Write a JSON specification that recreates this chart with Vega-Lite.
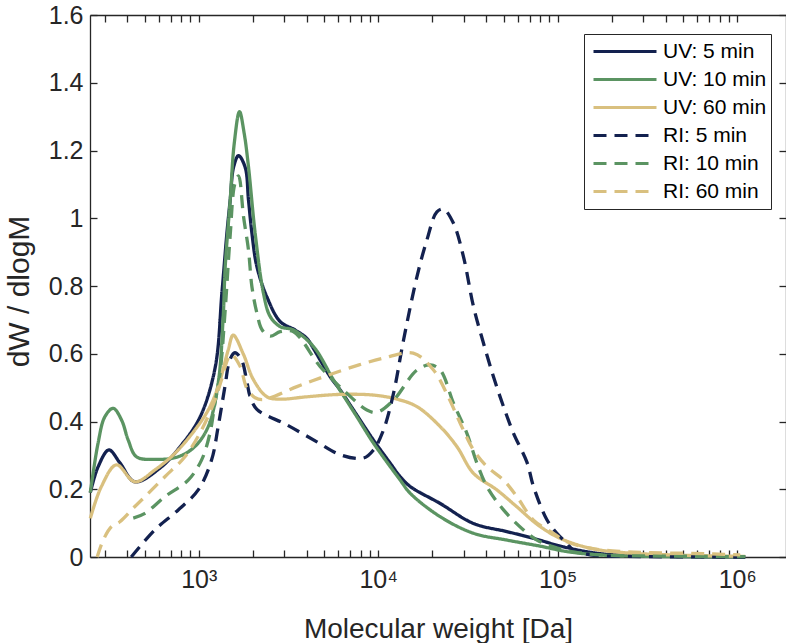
{
  "$schema": "https://vega.github.io/schema/vega-lite/v6.json",
  "width": 696,
  "height": 542,
  "autosize": "none",
  "padding": {"left": 90, "top": 15, "right": 0, "bottom": 86},
  "background": "white",
  "data": {"values": [
    {"series": "UV: 5 min", "M": 249, "v": 0.19},
    {"series": "UV: 5 min", "M": 275, "v": 0.266},
    {"series": "UV: 5 min", "M": 316, "v": 0.316},
    {"series": "UV: 5 min", "M": 365, "v": 0.277},
    {"series": "UV: 5 min", "M": 441, "v": 0.222},
    {"series": "UV: 5 min", "M": 610, "v": 0.263},
    {"series": "UV: 5 min", "M": 789, "v": 0.326},
    {"series": "UV: 5 min", "M": 1019, "v": 0.414},
    {"series": "UV: 5 min", "M": 1236, "v": 0.56},
    {"series": "UV: 5 min", "M": 1347, "v": 0.78},
    {"series": "UV: 5 min", "M": 1436, "v": 0.956},
    {"series": "UV: 5 min", "M": 1498, "v": 1.054},
    {"series": "UV: 5 min", "M": 1563, "v": 1.15},
    {"series": "UV: 5 min", "M": 1667, "v": 1.185},
    {"series": "UV: 5 min", "M": 1816, "v": 1.15},
    {"series": "UV: 5 min", "M": 1894, "v": 1.054},
    {"series": "UV: 5 min", "M": 1979, "v": 0.956},
    {"series": "UV: 5 min", "M": 2110, "v": 0.857},
    {"series": "UV: 5 min", "M": 2398, "v": 0.768},
    {"series": "UV: 5 min", "M": 2844, "v": 0.695},
    {"series": "UV: 5 min", "M": 3448, "v": 0.67},
    {"series": "UV: 5 min", "M": 4008, "v": 0.645},
    {"series": "UV: 5 min", "M": 4362, "v": 0.615},
    {"series": "UV: 5 min", "M": 5403, "v": 0.532},
    {"series": "UV: 5 min", "M": 6142, "v": 0.493},
    {"series": "UV: 5 min", "M": 7284, "v": 0.434},
    {"series": "UV: 5 min", "M": 9415, "v": 0.345},
    {"series": "UV: 5 min", "M": 11666, "v": 0.277},
    {"series": "UV: 5 min", "M": 13263, "v": 0.237},
    {"series": "UV: 5 min", "M": 15080, "v": 0.208},
    {"series": "UV: 5 min", "M": 22150, "v": 0.158},
    {"series": "UV: 5 min", "M": 33960, "v": 0.099},
    {"series": "UV: 5 min", "M": 52120, "v": 0.075},
    {"series": "UV: 5 min", "M": 73320, "v": 0.055},
    {"series": "UV: 5 min", "M": 107720, "v": 0.03},
    {"series": "UV: 5 min", "M": 172530, "v": 0.01},
    {"series": "UV: 5 min", "M": 327600, "v": 0.003},
    {"series": "UV: 5 min", "M": 1108000, "v": 0.0},

    {"series": "UV: 10 min", "M": 249, "v": 0.19},
    {"series": "UV: 10 min", "M": 275, "v": 0.336},
    {"series": "UV: 10 min", "M": 300, "v": 0.414},
    {"series": "UV: 10 min", "M": 334, "v": 0.439},
    {"series": "UV: 10 min", "M": 372, "v": 0.404},
    {"series": "UV: 10 min", "M": 405, "v": 0.345},
    {"series": "UV: 10 min", "M": 450, "v": 0.296},
    {"series": "UV: 10 min", "M": 570, "v": 0.288},
    {"series": "UV: 10 min", "M": 769, "v": 0.296},
    {"series": "UV: 10 min", "M": 952, "v": 0.326},
    {"series": "UV: 10 min", "M": 1130, "v": 0.385},
    {"series": "UV: 10 min", "M": 1284, "v": 0.513},
    {"series": "UV: 10 min", "M": 1369, "v": 0.709},
    {"series": "UV: 10 min", "M": 1405, "v": 0.857},
    {"series": "UV: 10 min", "M": 1498, "v": 1.054},
    {"series": "UV: 10 min", "M": 1577, "v": 1.22},
    {"series": "UV: 10 min", "M": 1688, "v": 1.315},
    {"series": "UV: 10 min", "M": 1793, "v": 1.25},
    {"series": "UV: 10 min", "M": 1894, "v": 1.152},
    {"series": "UV: 10 min", "M": 2064, "v": 0.955},
    {"series": "UV: 10 min", "M": 2296, "v": 0.778},
    {"series": "UV: 10 min", "M": 2502, "v": 0.71},
    {"series": "UV: 10 min", "M": 2844, "v": 0.68},
    {"series": "UV: 10 min", "M": 3375, "v": 0.67},
    {"series": "UV: 10 min", "M": 4362, "v": 0.621},
    {"series": "UV: 10 min", "M": 5636, "v": 0.523},
    {"series": "UV: 10 min", "M": 7608, "v": 0.414},
    {"series": "UV: 10 min", "M": 9415, "v": 0.336},
    {"series": "UV: 10 min", "M": 13263, "v": 0.227},
    {"series": "UV: 10 min", "M": 15080, "v": 0.188},
    {"series": "UV: 10 min", "M": 22150, "v": 0.119},
    {"series": "UV: 10 min", "M": 33960, "v": 0.07},
    {"series": "UV: 10 min", "M": 52120, "v": 0.05},
    {"series": "UV: 10 min", "M": 79890, "v": 0.032},
    {"series": "UV: 10 min", "M": 112540, "v": 0.016},
    {"series": "UV: 10 min", "M": 172530, "v": 0.006},
    {"series": "UV: 10 min", "M": 327600, "v": 0.002},
    {"series": "UV: 10 min", "M": 1108000, "v": 0.0},

    {"series": "UV: 60 min", "M": 249, "v": 0.114},
    {"series": "UV: 60 min", "M": 287, "v": 0.208},
    {"series": "UV: 60 min", "M": 348, "v": 0.272},
    {"series": "UV: 60 min", "M": 441, "v": 0.222},
    {"series": "UV: 60 min", "M": 570, "v": 0.257},
    {"series": "UV: 60 min", "M": 737, "v": 0.306},
    {"series": "UV: 60 min", "M": 952, "v": 0.375},
    {"series": "UV: 60 min", "M": 1130, "v": 0.434},
    {"series": "UV: 60 min", "M": 1284, "v": 0.503},
    {"series": "UV: 60 min", "M": 1460, "v": 0.611},
    {"series": "UV: 60 min", "M": 1557, "v": 0.655},
    {"series": "UV: 60 min", "M": 1770, "v": 0.6},
    {"series": "UV: 60 min", "M": 2020, "v": 0.523},
    {"series": "UV: 60 min", "M": 2398, "v": 0.473},
    {"series": "UV: 60 min", "M": 2844, "v": 0.466},
    {"series": "UV: 60 min", "M": 4008, "v": 0.473},
    {"series": "UV: 60 min", "M": 6142, "v": 0.48},
    {"series": "UV: 60 min", "M": 9415, "v": 0.478},
    {"series": "UV: 60 min", "M": 12712, "v": 0.466},
    {"series": "UV: 60 min", "M": 16430, "v": 0.444},
    {"series": "UV: 60 min", "M": 22150, "v": 0.385},
    {"series": "UV: 60 min", "M": 27440, "v": 0.326},
    {"series": "UV: 60 min", "M": 33960, "v": 0.247},
    {"series": "UV: 60 min", "M": 45840, "v": 0.198},
    {"series": "UV: 60 min", "M": 59270, "v": 0.148},
    {"series": "UV: 60 min", "M": 77880, "v": 0.094},
    {"series": "UV: 60 min", "M": 103260, "v": 0.055},
    {"series": "UV: 60 min", "M": 151740, "v": 0.026},
    {"series": "UV: 60 min", "M": 231700, "v": 0.013},
    {"series": "UV: 60 min", "M": 440000, "v": 0.006},
    {"series": "UV: 60 min", "M": 804300, "v": 0.003},
    {"series": "UV: 60 min", "M": 1108000, "v": 0.002},

    {"series": "RI: 5 min", "M": 421, "v": 0.0},
    {"series": "RI: 5 min", "M": 570, "v": 0.08},
    {"series": "RI: 5 min", "M": 769, "v": 0.139},
    {"series": "RI: 5 min", "M": 994, "v": 0.198},
    {"series": "RI: 5 min", "M": 1179, "v": 0.286},
    {"series": "RI: 5 min", "M": 1284, "v": 0.385},
    {"series": "RI: 5 min", "M": 1400, "v": 0.503},
    {"series": "RI: 5 min", "M": 1492, "v": 0.582},
    {"series": "RI: 5 min", "M": 1591, "v": 0.603},
    {"series": "RI: 5 min", "M": 1732, "v": 0.582},
    {"series": "RI: 5 min", "M": 1847, "v": 0.523},
    {"series": "RI: 5 min", "M": 1936, "v": 0.473},
    {"series": "RI: 5 min", "M": 2110, "v": 0.436},
    {"series": "RI: 5 min", "M": 3100, "v": 0.39},
    {"series": "RI: 5 min", "M": 4556, "v": 0.34},
    {"series": "RI: 5 min", "M": 6142, "v": 0.302},
    {"series": "RI: 5 min", "M": 8283, "v": 0.292},
    {"series": "RI: 5 min", "M": 9415, "v": 0.316},
    {"series": "RI: 5 min", "M": 10703, "v": 0.375},
    {"series": "RI: 5 min", "M": 12168, "v": 0.483},
    {"series": "RI: 5 min", "M": 13835, "v": 0.64},
    {"series": "RI: 5 min", "M": 16430, "v": 0.827},
    {"series": "RI: 5 min", "M": 18680, "v": 0.936},
    {"series": "RI: 5 min", "M": 21230, "v": 1.019},
    {"series": "RI: 5 min", "M": 23110, "v": 1.027},
    {"series": "RI: 5 min", "M": 26270, "v": 0.985},
    {"series": "RI: 5 min", "M": 29870, "v": 0.886},
    {"series": "RI: 5 min", "M": 33960, "v": 0.739},
    {"series": "RI: 5 min", "M": 38610, "v": 0.631},
    {"series": "RI: 5 min", "M": 43880, "v": 0.532},
    {"series": "RI: 5 min", "M": 49900, "v": 0.444},
    {"series": "RI: 5 min", "M": 56740, "v": 0.365},
    {"series": "RI: 5 min", "M": 67380, "v": 0.28},
    {"series": "RI: 5 min", "M": 73320, "v": 0.208},
    {"series": "RI: 5 min", "M": 87060, "v": 0.11},
    {"series": "RI: 5 min", "M": 98970, "v": 0.07},
    {"series": "RI: 5 min", "M": 112540, "v": 0.04},
    {"series": "RI: 5 min", "M": 122460, "v": 0.02},
    {"series": "RI: 5 min", "M": 151740, "v": 0.006},
    {"series": "RI: 5 min", "M": 231700, "v": 0.002},
    {"series": "RI: 5 min", "M": 1108000, "v": 0.0},

    {"series": "RI: 10 min", "M": 432, "v": 0.115},
    {"series": "RI: 10 min", "M": 502, "v": 0.129},
    {"series": "RI: 10 min", "M": 648, "v": 0.178},
    {"series": "RI: 10 min", "M": 874, "v": 0.227},
    {"series": "RI: 10 min", "M": 1037, "v": 0.286},
    {"series": "RI: 10 min", "M": 1155, "v": 0.365},
    {"series": "RI: 10 min", "M": 1231, "v": 0.454},
    {"series": "RI: 10 min", "M": 1313, "v": 0.54},
    {"series": "RI: 10 min", "M": 1405, "v": 0.73},
    {"series": "RI: 10 min", "M": 1498, "v": 0.95},
    {"series": "RI: 10 min", "M": 1587, "v": 1.1},
    {"series": "RI: 10 min", "M": 1667, "v": 1.125},
    {"series": "RI: 10 min", "M": 1777, "v": 1.005},
    {"series": "RI: 10 min", "M": 1894, "v": 0.906},
    {"series": "RI: 10 min", "M": 1979, "v": 0.798},
    {"series": "RI: 10 min", "M": 2110, "v": 0.72},
    {"series": "RI: 10 min", "M": 2258, "v": 0.67},
    {"series": "RI: 10 min", "M": 2502, "v": 0.652},
    {"series": "RI: 10 min", "M": 2844, "v": 0.665},
    {"series": "RI: 10 min", "M": 3375, "v": 0.665},
    {"series": "RI: 10 min", "M": 4753, "v": 0.562},
    {"series": "RI: 10 min", "M": 6693, "v": 0.483},
    {"series": "RI: 10 min", "M": 8650, "v": 0.434},
    {"series": "RI: 10 min", "M": 9835, "v": 0.427},
    {"series": "RI: 10 min", "M": 12168, "v": 0.463},
    {"series": "RI: 10 min", "M": 16430, "v": 0.552},
    {"series": "RI: 10 min", "M": 19490, "v": 0.567},
    {"series": "RI: 10 min", "M": 22150, "v": 0.552},
    {"series": "RI: 10 min", "M": 26270, "v": 0.454},
    {"series": "RI: 10 min", "M": 31200, "v": 0.365},
    {"series": "RI: 10 min", "M": 35480, "v": 0.277},
    {"series": "RI: 10 min", "M": 40330, "v": 0.208},
    {"series": "RI: 10 min", "M": 49900, "v": 0.139},
    {"series": "RI: 10 min", "M": 64500, "v": 0.08},
    {"series": "RI: 10 min", "M": 76580, "v": 0.05},
    {"series": "RI: 10 min", "M": 94750, "v": 0.03},
    {"series": "RI: 10 min", "M": 122460, "v": 0.015},
    {"series": "RI: 10 min", "M": 172530, "v": 0.006},
    {"series": "RI: 10 min", "M": 327600, "v": 0.003},
    {"series": "RI: 10 min", "M": 622300, "v": 0.002},
    {"series": "RI: 10 min", "M": 1108000, "v": 0.001},

    {"series": "RI: 60 min", "M": 272, "v": 0.0},
    {"series": "RI: 60 min", "M": 294, "v": 0.05},
    {"series": "RI: 60 min", "M": 327, "v": 0.09},
    {"series": "RI: 60 min", "M": 364, "v": 0.104},
    {"series": "RI: 60 min", "M": 441, "v": 0.149},
    {"series": "RI: 60 min", "M": 502, "v": 0.178},
    {"series": "RI: 60 min", "M": 648, "v": 0.237},
    {"series": "RI: 60 min", "M": 838, "v": 0.296},
    {"series": "RI: 60 min", "M": 1037, "v": 0.375},
    {"series": "RI: 60 min", "M": 1231, "v": 0.463},
    {"series": "RI: 60 min", "M": 1340, "v": 0.523},
    {"series": "RI: 60 min", "M": 1460, "v": 0.587},
    {"series": "RI: 60 min", "M": 1523, "v": 0.598},
    {"series": "RI: 60 min", "M": 1703, "v": 0.562},
    {"series": "RI: 60 min", "M": 1856, "v": 0.498},
    {"series": "RI: 60 min", "M": 2064, "v": 0.47},
    {"series": "RI: 60 min", "M": 2296, "v": 0.465},
    {"series": "RI: 60 min", "M": 3526, "v": 0.503},
    {"series": "RI: 60 min", "M": 4958, "v": 0.532},
    {"series": "RI: 60 min", "M": 7284, "v": 0.562},
    {"series": "RI: 60 min", "M": 10703, "v": 0.587},
    {"series": "RI: 60 min", "M": 15668, "v": 0.602},
    {"series": "RI: 60 min", "M": 20330, "v": 0.552},
    {"series": "RI: 60 min", "M": 24550, "v": 0.473},
    {"series": "RI: 60 min", "M": 28630, "v": 0.395},
    {"series": "RI: 60 min", "M": 33960, "v": 0.316},
    {"series": "RI: 60 min", "M": 40330, "v": 0.267},
    {"series": "RI: 60 min", "M": 49900, "v": 0.227},
    {"series": "RI: 60 min", "M": 59270, "v": 0.178},
    {"series": "RI: 60 min", "M": 73320, "v": 0.109},
    {"series": "RI: 60 min", "M": 94750, "v": 0.07},
    {"series": "RI: 60 min", "M": 112540, "v": 0.045},
    {"series": "RI: 60 min", "M": 151740, "v": 0.026},
    {"series": "RI: 60 min", "M": 231700, "v": 0.016},
    {"series": "RI: 60 min", "M": 327600, "v": 0.013},
    {"series": "RI: 60 min", "M": 500200, "v": 0.011},
    {"series": "RI: 60 min", "M": 735100, "v": 0.009},
    {"series": "RI: 60 min", "M": 1039000, "v": 0.006}
  ]},
  "layer": [
    {
      "mark": {"type": "line", "strokeWidth": 3.3, "interpolate": "catmull-rom"},
      "encoding": {
        "x": {
          "field": "M", "type": "quantitative",
          "scale": {"type": "log", "domain": [248, 1870000], "nice": false},
          "axis": {
            "orient": "bottom",
            "values": [300,400,500,600,700,800,900,1000,2000,3000,4000,5000,6000,7000,8000,9000,10000,20000,30000,40000,50000,60000,70000,80000,90000,100000,200000,300000,400000,500000,600000,700000,800000,900000,1000000],
            "labelExpr": "datum.value == 1000 ? '10³' : datum.value == 10000 ? '10⁴' : datum.value == 100000 ? '10⁵' : datum.value == 1000000 ? '10⁶' : ''",
            "tickSize": -7,
            "labelPadding": 17,
            "labelBaseline": "top",
            "labelFontSize": 25,
            "labelFlush": false,
            "labelOverlap": false,
            "title": "Molecular weight [Da]",
            "titleFontSize": 28,
            "titleBaseline": "alphabetic",
            "titleY": 80
          }
        },
        "y": {
          "field": "v", "type": "quantitative",
          "scale": {"domain": [0, 1.6], "nice": false},
          "axis": {
            "orient": "left",
            "values": [0, 0.2, 0.4, 0.6, 0.8, 1, 1.2, 1.4, 1.6],
            "format": "~g",
            "tickSize": -7,
            "labelPadding": 14,
            "labelFontSize": 25,
            "labelFlush": false,
            "labelOverlap": false,
            "title": "dW / dlogM",
            "titleFontSize": 30,
            "titleAngle": -90,
            "titleBaseline": "alphabetic",
            "titleAlign": "center",
            "titleX": -62,
            "titleY": 276
          }
        },
        "color": {
          "field": "series", "type": "nominal",
          "scale": {
            "domain": ["UV: 5 min", "UV: 10 min", "UV: 60 min", "RI: 5 min", "RI: 10 min", "RI: 60 min"],
            "range": ["#13214f", "#5b9462", "#d9c07f", "#13214f", "#5b9462", "#d9c07f"]
          },
          "legend": {"title": null}
        },
        "strokeDash": {
          "field": "series", "type": "nominal",
          "scale": {
            "domain": ["UV: 5 min", "UV: 10 min", "UV: 60 min", "RI: 5 min", "RI: 10 min", "RI: 60 min"],
            "range": [[1, 0], [1, 0], [1, 0], [13, 8], [13, 8], [13, 8]]
          },
          "legend": {"title": null}
        }
      }
    },
    {
      "mark": {"type": "point", "opacity": 0},
      "encoding": {
        "x": {
          "field": "M", "type": "quantitative",
          "scale": {"type": "log", "domain": [248, 1870000], "nice": false},
          "axis": {
            "orient": "top",
            "values": [300,400,500,600,700,800,900,1000,2000,3000,4000,5000,6000,7000,8000,9000,10000,20000,30000,40000,50000,60000,70000,80000,90000,100000,200000,300000,400000,500000,600000,700000,800000,900000,1000000],
            "labels": false,
            "tickSize": -7,
            "title": null
          }
        },
        "y": {
          "field": "v", "type": "quantitative",
          "scale": {"domain": [0, 1.6], "nice": false},
          "axis": {
            "orient": "right",
            "values": [0, 0.2, 0.4, 0.6, 0.8, 1, 1.2, 1.4, 1.6],
            "labels": false,
            "tickSize": -7,
            "title": null
          }
        }
      }
    }
  ],
  "resolve": {"axis": {"x": "independent", "y": "independent"}},
  "config": {
    "view": {"stroke": null},
    "axis": {
      "grid": false,
      "domainColor": "#262626",
      "domainWidth": 1.3,
      "tickColor": "#262626",
      "tickWidth": 1.3,
      "labelFont": "Liberation Sans",
      "labelFontSize": 24,
      "labelColor": "#262626",
      "titleFont": "Liberation Sans",
      "titleFontSize": 26,
      "titleFontWeight": "normal",
      "titleColor": "#262626"
    },
    "legend": {
      "orient": "none",
      "legendX": 494,
      "legendY": 19,
      "strokeColor": "#262626",
      "fillColor": "white",
      "padding": 4,
      "symbolType": "stroke",
      "symbolSize": 3969,
      "symbolStrokeWidth": 3,
      "symbolOffset": 4,
      "labelFont": "Liberation Sans",
      "labelFontSize": 21,
      "labelColor": "black",
      "labelOffset": 5,
      "labelLimit": 300,
      "clipHeight": 27,
      "rowPadding": 1
    }
  }
}
